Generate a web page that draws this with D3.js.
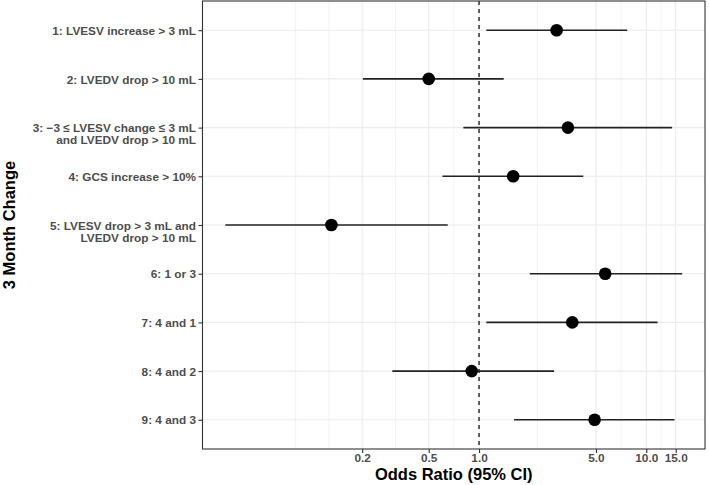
<!DOCTYPE html>
<html>
<head>
<meta charset="utf-8">
<script src="https://cdn.jsdelivr.net/npm/d3@7"></script>
<style>
  html, body { margin: 0; padding: 0; background: #fff; }
  svg { display: block; font-family: "Liberation Sans", Arial, Helvetica, sans-serif; }
</style>
</head>
<body>
<svg id="chart" width="709" height="485"></svg>
<script>
// ---- data ----
const categories = [
  ["1: LVESV increase > 3 mL"],
  ["2: LVEDV drop > 10 mL"],
  ["3: \u22123 \u2264 LVESV change \u2264 3 mL", "and LVEDV drop > 10 mL"],
  ["4: GCS increase > 10%"],
  ["5: LVESV drop > 3 mL and", "LVEDV drop > 10 mL"],
  ["6: 1 or 3"],
  ["7: 4 and 1"],
  ["8: 4 and 2"],
  ["9: 4 and 3"]
];
const oddsRatio = [2.91, 0.50, 3.40, 1.60, 0.131, 5.68, 3.61, 0.904, 4.91];
const lowerCI   = [1.106, 0.202, 0.806, 0.604, 0.0304, 2.01, 1.106, 0.303, 1.62];
const upperCI   = [7.69, 1.404, 14.28, 4.20, 0.650, 16.39, 11.68, 2.81, 14.76];
const xTicks = [0.2, 0.5, 1.0, 5.0, 10.0, 15.0];
const xTickLabels = ["0.2", "0.5", "1.0", "5.0", "10.0", "15.0"];
const refValue = 1;
const xTitle = "Odds Ratio (95% CI)";
const yTitle = "3 Month Change";

// ---- layout ----
const svg = d3.select("#chart");
const panel = { left: 202.5, right: 705, top: 1, bottom: 449 };

const ids = categories.map((c, i) => i);
const lo = d3.min(lowerCI), hi = d3.max(upperCI);
const l0 = Math.log10(lo), l1 = Math.log10(hi), ex = (l1 - l0) * 0.05;
const x = d3.scaleLog()
  .domain([Math.pow(10, l0 - ex), Math.pow(10, l1 + ex)])
  .range([panel.left, panel.right]);
const y = d3.scalePoint()
  .domain(ids)
  .range([panel.top, panel.bottom])
  .padding(0.6);

// minor gridlines: midpoints in log space (with one step extended left)
const lt = xTicks.map(v => Math.log10(v));
const ext = [lt[0] - (lt[1] - lt[0]), ...lt];
const minor = [];
for (let i = 0; i < ext.length - 1; i++) minor.push(Math.pow(10, (ext[i] + ext[i + 1]) / 2));
minor.push(Math.pow(10, ext[0]));

const g = svg.append("g");
// grid
g.selectAll(".minor").data(minor).join("line")
  .attr("x1", d => x(d)).attr("x2", d => x(d))
  .attr("y1", panel.top).attr("y2", panel.bottom)
  .attr("stroke", "#ebebeb").attr("stroke-width", 0.6);
g.selectAll(".majorx").data(xTicks).join("line")
  .attr("x1", d => x(d)).attr("x2", d => x(d))
  .attr("y1", panel.top).attr("y2", panel.bottom)
  .attr("stroke", "#ebebeb").attr("stroke-width", 1.1);
g.selectAll(".majory").data(ids).join("line")
  .attr("x1", panel.left).attr("x2", panel.right)
  .attr("y1", d => y(d)).attr("y2", d => y(d))
  .attr("stroke", "#ebebeb").attr("stroke-width", 1.1);

// reference line
g.append("line")
  .attr("x1", x(refValue)).attr("x2", x(refValue))
  .attr("y1", panel.top).attr("y2", panel.bottom)
  .attr("stroke", "#000").attr("stroke-width", 1.2)
  .attr("stroke-dasharray", "4,4");

// CI lines
g.selectAll(".ci").data(ids).join("line")
  .attr("x1", i => x(lowerCI[i])).attr("x2", i => x(upperCI[i]))
  .attr("y1", i => y(i)).attr("y2", i => y(i))
  .attr("stroke", "#222").attr("stroke-width", 1.6);

// points
g.selectAll(".pt").data(ids).join("circle")
  .attr("cx", i => x(oddsRatio[i])).attr("cy", i => y(i))
  .attr("r", 6.3).attr("fill", "#000");

// panel border
g.append("rect")
  .attr("x", panel.left).attr("y", panel.top)
  .attr("width", panel.right - panel.left).attr("height", panel.bottom - panel.top)
  .attr("fill", "none").attr("stroke", "#333").attr("stroke-width", 1.1);

// x axis
const xAxis = d3.axisBottom(x)
  .tickValues(xTicks)
  .tickFormat((d, i) => xTickLabels[i])
  .tickSize(4).tickPadding(1);
const xg = svg.append("g").attr("transform", `translate(0,${panel.bottom})`).call(xAxis);
xg.select(".domain").remove();
xg.selectAll(".tick line").attr("stroke", "#333").attr("stroke-width", 1.1);
xg.selectAll(".tick text")
  .attr("fill", "#4d4d4d").attr("font-size", "11.8px").attr("font-weight", "bold")
  .attr("font-family", "Liberation Sans, Arial, sans-serif");

// y axis
const yAxis = d3.axisLeft(y).tickFormat("").tickSize(4);
const yg = svg.append("g").attr("transform", `translate(${panel.left},0)`).call(yAxis);
yg.select(".domain").remove();
yg.selectAll(".tick line").attr("stroke", "#333").attr("stroke-width", 1.1);
yg.selectAll(".tick").each(function (i) {
  const t = d3.select(this).append("text")
    .attr("x", -6.5).attr("text-anchor", "end")
    .attr("fill", "#4d4d4d").attr("font-size", "11.8px").attr("font-weight", "bold")
    .attr("font-family", "Liberation Sans, Arial, sans-serif");
  categories[i].forEach((line, k) => {
    t.append("tspan").attr("x", -6.5).attr("y", k * 12).attr("dy", "0.35em").text(line);
  });
});

// titles
svg.append("text")
  .attr("x", (panel.left + panel.right) / 2).attr("y", 480)
  .attr("text-anchor", "middle").attr("font-size", "16.5px").attr("font-weight", "bold")
  .attr("fill", "#000").text(xTitle);
svg.append("text")
  .attr("transform", `translate(15,${(panel.top + panel.bottom) / 2}) rotate(-90)`)
  .attr("text-anchor", "middle").attr("font-size", "16.5px").attr("font-weight", "bold")
  .attr("fill", "#000").text(yTitle);
</script>
</body>
</html>
